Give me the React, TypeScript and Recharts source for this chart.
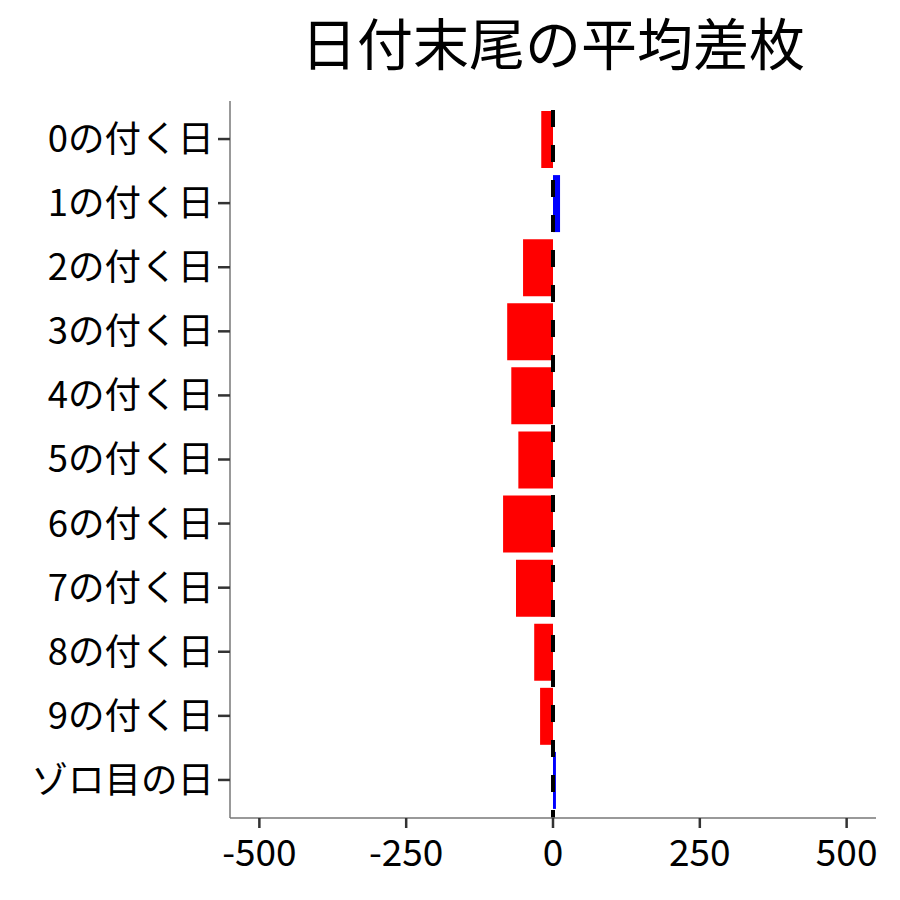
import React from "react";
import { BarChart, Bar, XAxis, YAxis, Cell, ReferenceLine } from "recharts";

// Average difference per day ending
const labels = [
  "0の付く日",
  "1の付く日",
  "2の付く日",
  "3の付く日",
  "4の付く日",
  "5の付く日",
  "6の付く日",
  "7の付く日",
  "8の付く日",
  "9の付く日",
  "ゾロ目の日",
];
const values = [-20, 12, -51, -78, -71, -59, -85, -63, -32, -22, 5];
const xTicks = [-500, -250, 0, 250, 500];

const data = labels.map((label, i) => ({ label, value: values[i] }));

const FONT = '"Noto Sans CJK JP", "Noto Sans", sans-serif';

export default function App() {
  return (
    <div style={{ position: "absolute", left: 0, top: 0, width: 900, height: 900, background: "#fff" }}>
      <div
        style={{
          position: "absolute",
          left: 230,
          width: 646,
          top: 6,
          textAlign: "center",
          fontFamily: FONT,
          fontSize: 56,
          lineHeight: "70px",
          color: "#000",
        }}
      >
        日付末尾の平均差枚
      </div>
      <BarChart
        width={900}
        height={900}
        layout="vertical"
        data={data}
        margin={{ top: 101, right: 24, bottom: 0, left: 0 }}
        style={{ position: "absolute", left: 0, top: 0 }}
      >
        <XAxis
          type="number"
          domain={[-550, 550]}
          ticks={xTicks}
          allowDataOverflow
          height={82}
          tickSize={10}
          axisLine={{ stroke: "#777", strokeWidth: 1.5 }}
          tickLine={{ stroke: "#333", strokeWidth: 2.5 }}
          tick={{ fill: "#000", fontSize: 37, fontFamily: FONT, dy: 10 }}
        />
        <YAxis
          type="category"
          dataKey="label"
          width={230}
          padding={{ top: 6, bottom: 6 }}
          tickSize={12}
          axisLine={{ stroke: "#777", strokeWidth: 1.5 }}
          tickLine={{ stroke: "#333", strokeWidth: 2.5 }}
          tick={{ fill: "#000", fontSize: 36.5, fontFamily: FONT, dx: -2 }}
        />
        <Bar dataKey="value" barSize={57} isAnimationActive={false}>
          {data.map((d, i) => (
            <Cell key={i} fill={d.value >= 0 ? "#0000FF" : "#FF0000"} />
          ))}
        </Bar>
        <ReferenceLine
          x={0}
          stroke="#000"
          strokeWidth={4}
          strokeDasharray="17 18"
          strokeDashoffset={9}
        />
      </BarChart>
    </div>
  );
}
